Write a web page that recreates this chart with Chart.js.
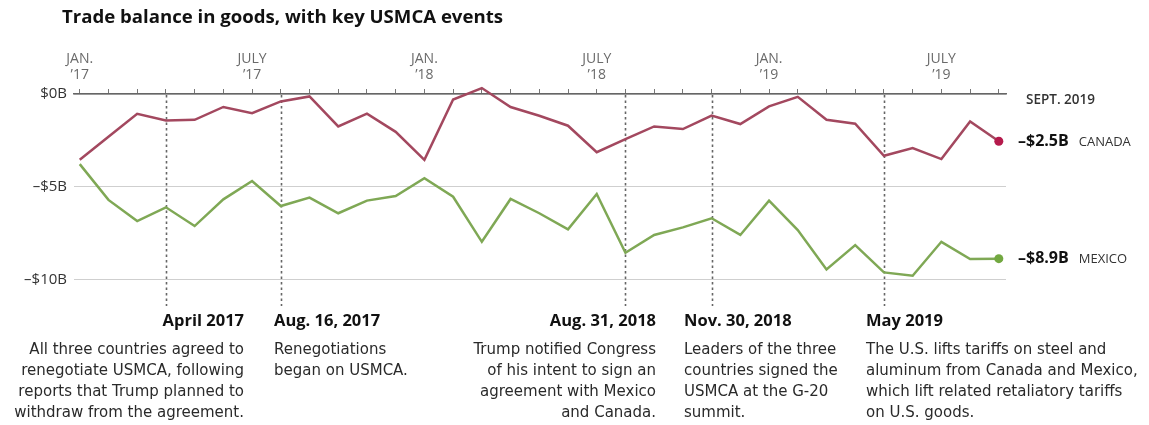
<!DOCTYPE html>
<html>
<head>
<meta charset="utf-8">
<script src="https://cdn.jsdelivr.net/npm/chart.js@4.4.1/dist/chart.umd.min.js"></script>
<style>
  html, body { margin: 0; padding: 0; background: #fff; }
</style>
</head>
<body>
<canvas id="trade" width="1149" height="425"></canvas>
<script>
// monthly trade balance in goods, billions of dollars (Jan 2017 - Sept 2019)
const months = [
  '2017-01','2017-02','2017-03','2017-04','2017-05','2017-06','2017-07','2017-08','2017-09','2017-10','2017-11','2017-12',
  '2018-01','2018-02','2018-03','2018-04','2018-05','2018-06','2018-07','2018-08','2018-09','2018-10','2018-11','2018-12',
  '2019-01','2019-02','2019-03','2019-04','2019-05','2019-06','2019-07','2019-08','2019-09'
];
const canada = [
  -3.55, -2.3, -1.07, -1.43, -1.39, -0.7, -1.03, -0.4, -0.13, -1.75, -1.06, -2.04,
  -3.55, -0.3, 0.32, -0.7, -1.17, -1.71, -3.14, -2.43, -1.75, -1.89, -1.16, -1.62,
  -0.67, -0.15, -1.39, -1.6, -3.33, -2.92, -3.51, -1.48, -2.55
];
const mexico = [
  -3.78, -5.71, -6.85, -6.11, -7.12, -5.68, -4.69, -6.04, -5.59, -6.43, -5.75, -5.5,
  -4.54, -5.54, -7.97, -5.66, -6.43, -7.3, -5.39, -8.56, -7.6, -7.19, -6.7, -7.6,
  -5.75, -7.34, -9.46, -8.15, -9.62, -9.8, -7.97, -8.9, -8.88
];
const xTickMonths = [0, 6, 12, 18, 24, 30];
const xTickLabels = [['JAN.', '\u201917'], ['JULY', '\u201917'], ['JAN.', '\u201918'], ['JULY', '\u201918'], ['JAN.', '\u201919'], ['JULY', '\u201919']];
const yTicks = [0, -5, -10];
const yTickLabels = ['$0B', '\u2013$5B', '\u2013$10B'];
const endLabels = ['\u2013$2.5B', '\u2013$8.9B'];
const seriesNames = ['CANADA', 'MEXICO'];

const events = [
  { month: 3, date: 'April 2017', text: ['All three countries agreed to', 'renegotiate USMCA, following', 'reports that Trump planned to', 'withdraw from the agreement.'] },
  { month: 7, date: 'Aug. 16, 2017', text: ['Renegotiations', 'began on USMCA.'] },
  { month: 19, date: 'Aug. 31, 2018', text: ['Trump notified Congress', 'of his intent to sign an', 'agreement with Mexico', 'and Canada.'] },
  { month: 22, date: 'Nov. 30, 2018', text: ['Leaders of the three', 'countries signed the', 'USMCA at the G-20', 'summit.'] },
  { month: 28, date: 'May 2019', text: ['The U.S. lifts tariffs on steel and', 'aluminum from Canada and Mexico,', 'which lift related retaliatory tariffs', 'on U.S. goods.'] }
];
// where each note's text block sits
const noteAnchors = [
  { x: 244, align: 'right' },
  { x: 274, align: 'left' },
  { x: 656, align: 'right' },
  { x: 684, align: 'left' },
  { x: 866, align: 'left' }
];

const FONT = '"Open Sans", Roboto, sans-serif';
const NOTE_FONT = '"DejaVu Sans", sans-serif';
const last = months.length - 1;

const annotations = {
  id: 'annotations',
  beforeDatasetsDraw(chart) {
    const ctx = chart.ctx;
    const x = chart.scales.x, y = chart.scales.y;
    ctx.save();
    ctx.strokeStyle = '#666';
    ctx.lineWidth = 1.6;
    ctx.setLineDash([2.5, 3]);
    events.forEach(ev => {
      const px = Math.round(x.getPixelForValue(ev.month)) + 0.5;
      ctx.beginPath();
      ctx.moveTo(px, y.getPixelForValue(0) + 1);
      ctx.lineTo(px, 306);
      ctx.stroke();
    });
    ctx.restore();
  },
  afterDraw(chart) {
    const ctx = chart.ctx;
    const y = chart.scales.y;
    ctx.save();
    ctx.textBaseline = 'middle';

    // title
    ctx.fillStyle = '#111';
    ctx.font = 'bold 18.6px ' + FONT;
    ctx.textAlign = 'left';
    ctx.fillText('Trade balance in goods, with key USMCA events', 62, 18);

    // end labels
    ctx.fillStyle = '#333';
    ctx.font = '600 13.5px ' + FONT;
    ctx.fillText('SEPT. 2019', 1026, 100);
    [canada, mexico].forEach((s, i) => {
      const py = y.getPixelForValue(s[last]);
      ctx.fillStyle = '#111';
      ctx.font = 'bold 16px ' + FONT;
      ctx.fillText(endLabels[i], 1018, py);
      const w = ctx.measureText(endLabels[i]).width;
      ctx.fillStyle = '#333';
      ctx.font = '13px ' + FONT;
      ctx.fillText(seriesNames[i], 1018 + w + 10, py + 1);
    });

    // event notes
    events.forEach((ev, i) => {
      const a = noteAnchors[i];
      ctx.textAlign = a.align;
      ctx.fillStyle = '#111';
      ctx.font = 'bold 16.5px ' + FONT;
      ctx.fillText(ev.date, a.x, 321);
      ctx.fillStyle = '#2a2a2a';
      ctx.font = '15px ' + NOTE_FONT;
      ev.text.forEach((line, j) => ctx.fillText(line, a.x, 350 + j * 21));
    });
    ctx.restore();
  }
};

new Chart(document.getElementById('trade'), {
  type: 'line',
  data: {
    datasets: [
      {
        label: 'Canada',
        data: canada.map((v, i) => ({ x: i, y: v })),
        borderColor: '#a3485f',
        borderWidth: 2.5,
        pointRadius: c => c.dataIndex === last ? 4.5 : 0,
        pointBackgroundColor: '#b51a4c',
        pointBorderWidth: 0,
        tension: 0,
        clip: false
      },
      {
        label: 'Mexico',
        data: mexico.map((v, i) => ({ x: i, y: v })),
        borderColor: '#7fa855',
        borderWidth: 2.5,
        pointRadius: c => c.dataIndex === last ? 4.5 : 0,
        pointBackgroundColor: '#72a840',
        pointBorderWidth: 0,
        tension: 0,
        clip: false
      }
    ]
  },
  options: {
    responsive: false,
    animation: false,
    devicePixelRatio: 1,
    layout: { padding: { top: 34, right: 143, bottom: 127, left: 0 } },
    plugins: { legend: { display: false }, tooltip: { enabled: false } },
    scales: {
      x: {
        type: 'linear',
        position: 'top',
        min: -0.2,
        max: 32.25,
        afterBuildTicks: s => { s.ticks = months.map((m, i) => ({ value: i })); },
        afterFit: s => { s.height = 60; },
        ticks: {
          autoSkip: false,
          maxRotation: 0,
          padding: 6,
          color: '#6a6a6a',
          font: { family: FONT, size: 14, lineHeight: 1.15 },
          callback: v => {
            const k = xTickMonths.indexOf(v);
            return k >= 0 ? xTickLabels[k] : '';
          }
        },
        grid: { drawOnChartArea: false, drawTicks: true, tickLength: 5, tickColor: '#777', lineWidth: 1 },
        border: { display: true, color: '#666', width: 1.5 }
      },
      y: {
        min: -11,
        max: 0,
        afterBuildTicks: s => { s.ticks = yTicks.map(v => ({ value: v })); },
        afterFit: s => { s.width = 74; },
        ticks: {
          padding: 7,
          color: '#333',
          font: { family: FONT, size: 15 },
          callback: v => yTickLabels[yTicks.indexOf(v)]
        },
        grid: { color: '#cfcfcf', drawTicks: false, lineWidth: 1 },
        border: { display: false }
      }
    }
  },
  plugins: [annotations]
});
</script>
</body>
</html>
